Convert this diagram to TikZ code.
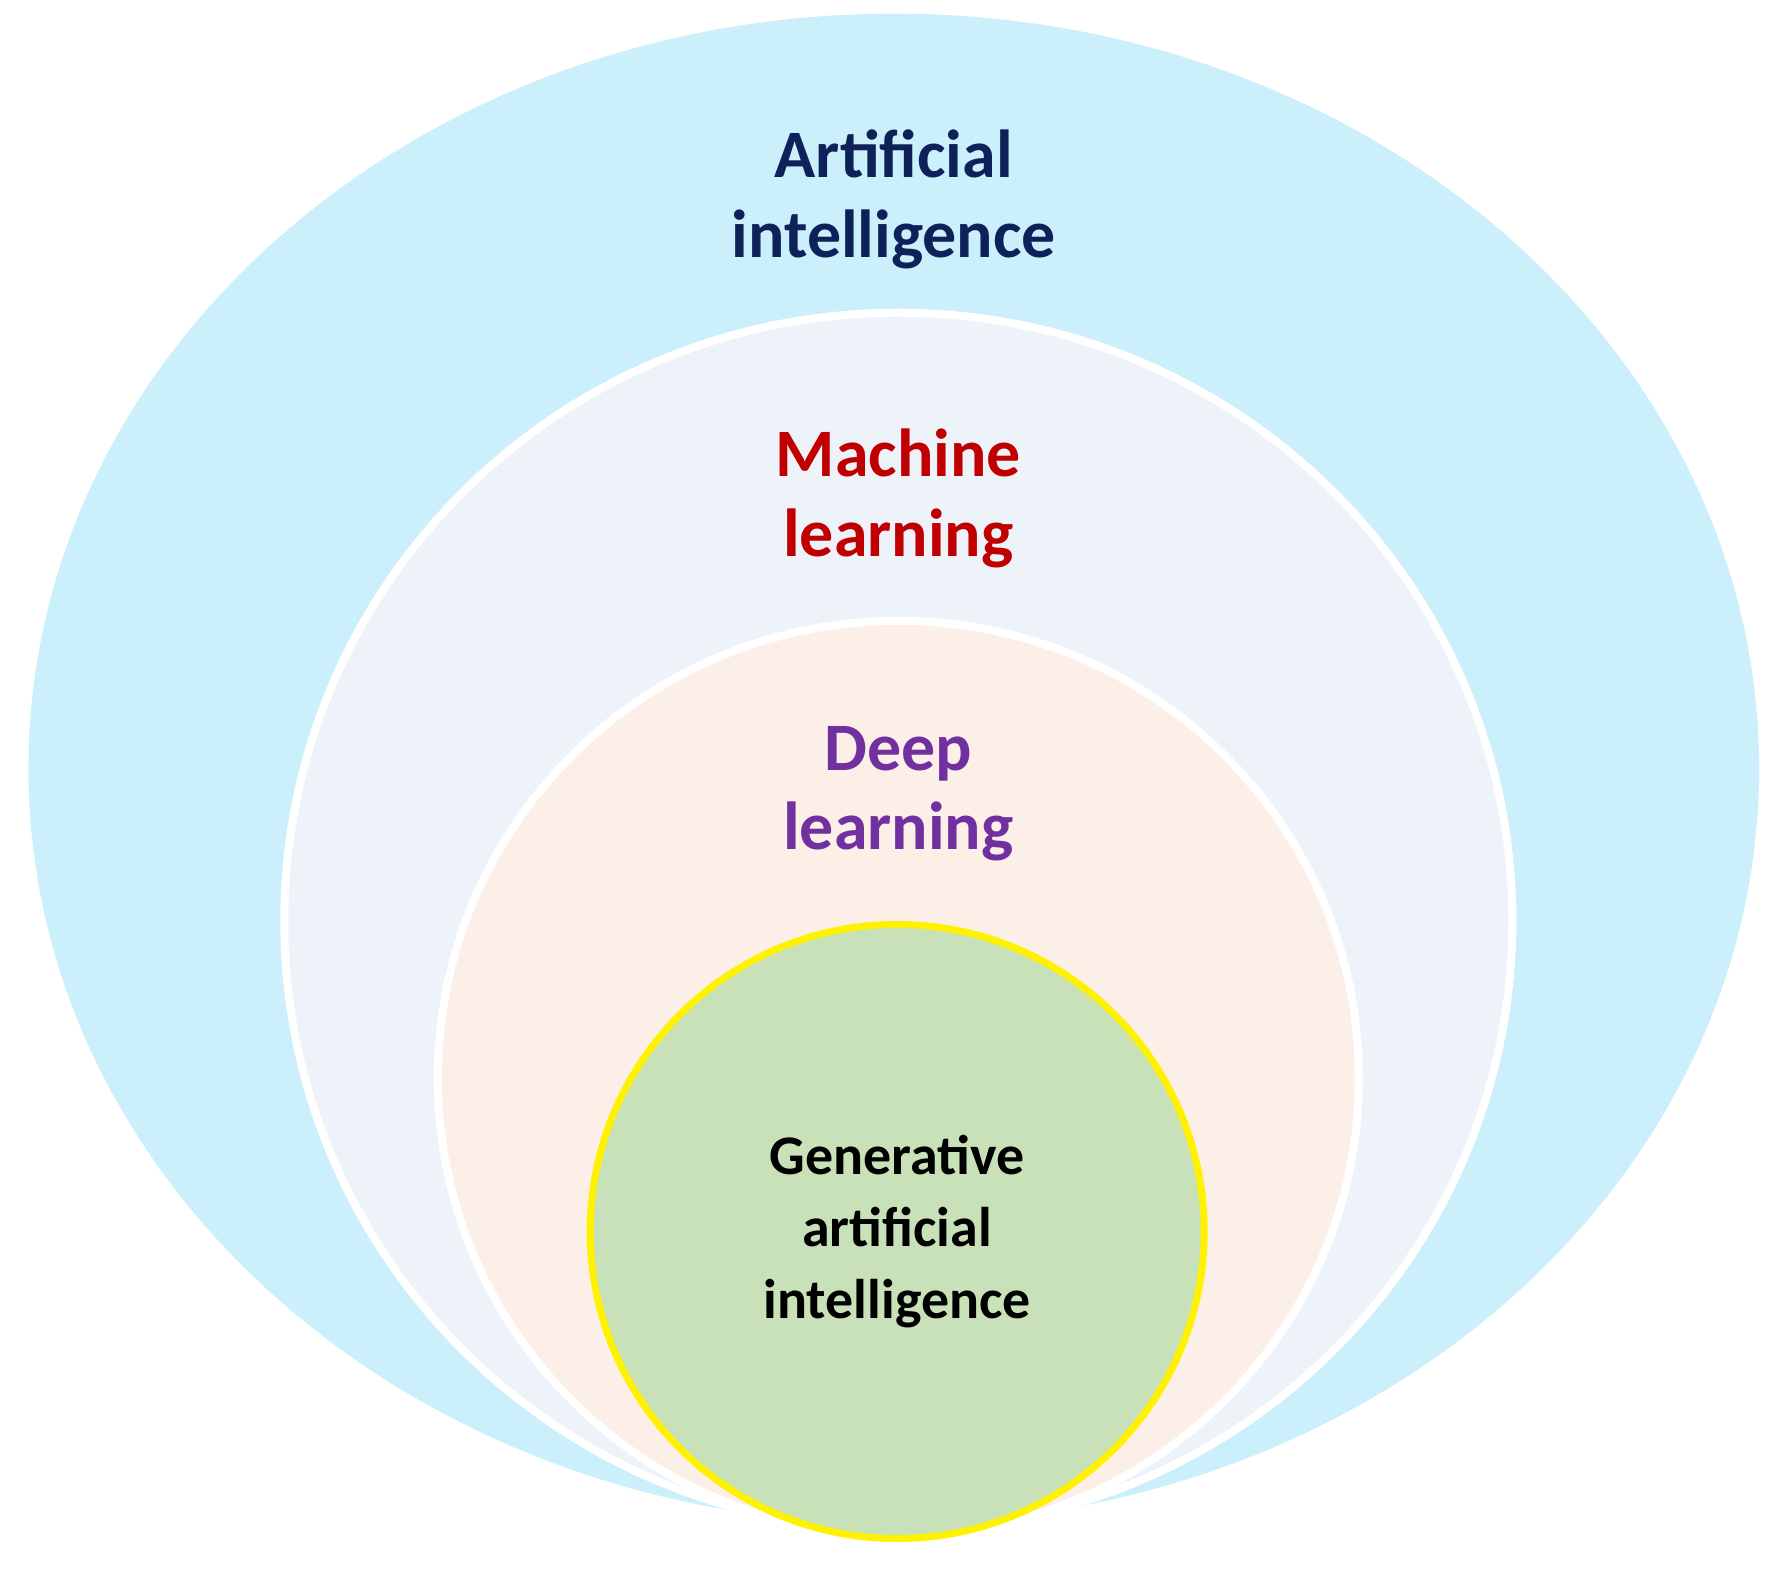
\documentclass[tikz,border=0pt]{standalone}
\usepackage{fontspec}
\setmainfont{Carlito}
\definecolor{aiF}{HTML}{CCEFFC}
\definecolor{mlF}{HTML}{EEF3FA}
\definecolor{dlF}{HTML}{FCEFE8}
\definecolor{genF}{HTML}{C9E1B8}
\definecolor{aiT}{HTML}{0E2159}
\definecolor{mlT}{HTML}{C00000}
\definecolor{dlT}{HTML}{7030A0}
\begin{document}
\begin{tikzpicture}[x=0.02cm,y=-0.02cm,
  lbl/.style={font=\fontsize{34}{40}\selectfont\bfseries,align=center},
  glbl/.style={font=\fontsize{28}{36}\selectfont\bfseries,align=center}]
\useasboundingbox (0,0) rectangle (1568,1384);
\fill[aiF] (786,676) ellipse [x radius=761, y radius=664];
\draw[white,line width=4pt,fill=mlF] (790,810) ellipse [x radius=540, y radius=535];
\draw[white,line width=4pt,fill=dlF] (790,948) ellipse [x radius=405, y radius=402];
\draw[yellow,line width=3.5pt,fill=genF] (789,1083) circle [radius=270];
\node[lbl,text=aiT] (ai) at (786,175) {Artificial\\intelligence};
\node[lbl,text=mlT] (ml) at (790,438) {Machine\\learning};
\node[lbl,text=dlT] (dl) at (790,698) {Deep\\learning};
\node[glbl,text=black] (gen) at (789,1083) {Generative\\artificial\\intelligence};
\end{tikzpicture}
\end{document}
